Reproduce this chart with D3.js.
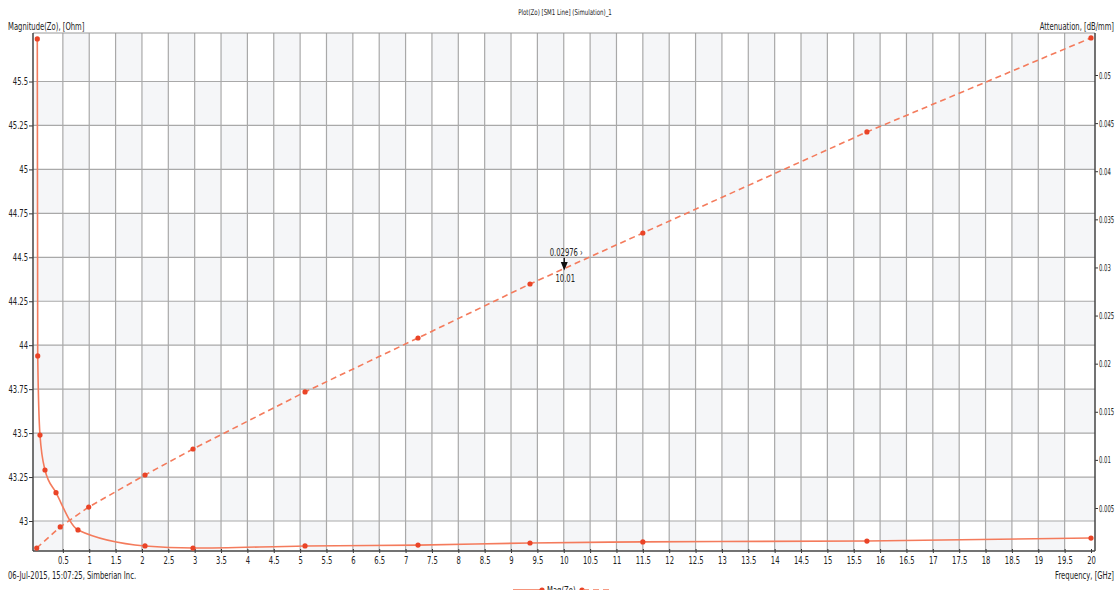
<!DOCTYPE html>
<html>
<head>
<meta charset="utf-8">
<script src="https://cdn.jsdelivr.net/npm/d3@7"></script>
<style>
  body { margin: 0; background: #fff; }
  text { font-family: "Liberation Sans Narrow", "DejaVu Sans Condensed", "Liberation Sans", sans-serif; fill: #222; }
</style>
</head>
<body>
<div id="chart"></div>
<script>
// Magnitude(Zo) series (solid, left axis)
var freqMag = [0.015, 0.023, 0.066, 0.161, 0.37, 0.787, 2.058, 2.968, 5.093, 7.236, 9.36, 11.5, 15.75, 20];
var magZo = [45.742, 43.939, 43.489, 43.29, 43.161, 42.949, 42.858, 42.846, 42.858, 42.863, 42.875, 42.881, 42.886, 42.903];

// Attenuation series (dashed, right axis)
var freqAtt = [0.004, 0.45, 0.99, 2.058, 2.968, 5.093, 7.236, 9.36, 11.5, 15.75, 20];
var attValues = [0.00084, 0.00303, 0.0051, 0.00843, 0.01113, 0.01706, 0.02267, 0.02828, 0.03358, 0.04408, 0.05385];

// tick labels
var xTicks = d3.range(1, 41).map(d => d / 2);
var yLeftTicks = [43, 43.25, 43.5, 43.75, 44, 44.25, 44.5, 44.75, 45, 45.25, 45.5];
var yRightTicks = [0.005, 0.01, 0.015, 0.02, 0.025, 0.03, 0.035, 0.04, 0.045, 0.05];

// marker annotation
var markerFreq = 10.01;
var markerValue = 0.02976;

var svgWidth = 1119;
var svgHeight = 590;

// plot frame
var frame = { left: 33, right: 1095, top: 33, bottom: 551 };

var lineColor = "#f47b5c";
var dotColor = "#ea4427";
var gridColor = "#a9a9a9";

var svg = d3.select("#chart")
  .append("svg")
  .attr("width", svgWidth)
  .attr("height", svgHeight);

var x = d3.scaleLinear().domain([0, 20]).range([36.5, 1091]);
var yLeft = d3.scaleLinear().domain([43, 45.5]).range([521, 81.5]);
var yRight = d3.scaleLinear().domain([0.005, 0.05]).range([508, 75]);

// checkerboard background
var colEdges = [frame.left].concat(xTicks.slice(0, -1).map(d => x(d)), [frame.right]);
var rowEdges = [frame.top].concat(yLeftTicks.slice().reverse().map(d => yLeft(d)), [frame.bottom]);
var cells = [];
for (var i = 0; i < colEdges.length - 1; i++) {
  for (var j = 0; j < rowEdges.length - 1; j++) {
    if ((i + j) % 2 === 1) cells.push({ x0: colEdges[i], x1: colEdges[i + 1], y0: rowEdges[j], y1: rowEdges[j + 1] });
  }
}
svg.append("g").selectAll("rect")
  .data(cells)
  .enter()
  .append("rect")
  .attr("x", d => d.x0)
  .attr("y", d => d.y0)
  .attr("width", d => d.x1 - d.x0)
  .attr("height", d => d.y1 - d.y0)
  .attr("fill", "#f5f6f8");

// grid lines
svg.append("g").selectAll("line")
  .data(xTicks.slice(0, -1))
  .enter()
  .append("line")
  .attr("x1", d => x(d)).attr("x2", d => x(d))
  .attr("y1", frame.top).attr("y2", frame.bottom)
  .attr("stroke", gridColor)
  .attr("stroke-width", 1.2);

svg.append("g").selectAll("line")
  .data(yLeftTicks)
  .enter()
  .append("line")
  .attr("x1", frame.left).attr("x2", frame.right)
  .attr("y1", d => yLeft(d)).attr("y2", d => yLeft(d))
  .attr("stroke", gridColor)
  .attr("stroke-width", 1.2);

// frame
svg.append("line")
  .attr("x1", frame.left).attr("x2", frame.right)
  .attr("y1", frame.top).attr("y2", frame.top)
  .attr("stroke", "#999").attr("stroke-width", 1.2);

// axes
var leftAxis = d3.axisLeft(yLeft)
  .tickValues(yLeftTicks)
  .tickSize(4)
  .tickPadding(1)
  .tickFormat(d => String(+d.toFixed(2)));
var rightAxis = d3.axisRight(yRight)
  .tickValues(yRightTicks)
  .tickSize(3)
  .tickPadding(1)
  .tickFormat(d => String(+d.toFixed(3)));
var bottomAxis = d3.axisBottom(x)
  .tickValues(xTicks)
  .tickSize(4)
  .tickPadding(4)
  .tickFormat(d => String(d));

function styleAxis(g) {
  g.select(".domain").remove();
  g.selectAll(".tick line").attr("stroke", "#333");
  g.selectAll(".tick text").attr("font-size", "10px").attr("fill", "#222");
}

svg.append("g").attr("transform", `translate(${frame.left},0)`).call(leftAxis).call(styleAxis);
var rightG = svg.append("g").attr("transform", `translate(${frame.right},0)`).call(rightAxis).call(styleAxis);
rightG.selectAll(".tick text").attr("font-size", "9.5px").classed("tight", true);
svg.append("g").attr("transform", `translate(0,${frame.bottom - 2})`).call(bottomAxis).call(styleAxis);

svg.append("line")
  .attr("x1", frame.left).attr("x2", frame.left)
  .attr("y1", frame.top).attr("y2", frame.bottom)
  .attr("stroke", "#444").attr("stroke-width", 1.5);
svg.append("line")
  .attr("x1", frame.right).attr("x2", frame.right)
  .attr("y1", frame.top).attr("y2", frame.bottom)
  .attr("stroke", "#444").attr("stroke-width", 1.5);
svg.append("line")
  .attr("x1", frame.left).attr("x2", frame.right)
  .attr("y1", frame.bottom).attr("y2", frame.bottom)
  .attr("stroke", "#444").attr("stroke-width", 1.5);

// series
var magData = freqMag.map((f, i) => ({ f: f, v: magZo[i] }));
var attData = freqAtt.map((f, i) => ({ f: f, v: attValues[i] }));

var magLine = d3.line()
  .x(d => x(d.f))
  .y(d => yLeft(d.v))
  .curve(d3.curveMonotoneX);
var attLine = d3.line()
  .x(d => x(d.f))
  .y(d => yRight(d.v));

svg.append("path")
  .datum(magData)
  .attr("d", magLine)
  .attr("fill", "none")
  .attr("stroke", lineColor)
  .attr("stroke-width", 1.6);

svg.append("path")
  .datum(attData)
  .attr("d", attLine)
  .attr("fill", "none")
  .attr("stroke", lineColor)
  .attr("stroke-width", 1.6)
  .attr("stroke-dasharray", "6,4");

svg.append("g").selectAll("circle")
  .data(magData)
  .enter()
  .append("circle")
  .attr("cx", d => x(d.f))
  .attr("cy", d => yLeft(d.v))
  .attr("r", 2.6)
  .attr("fill", dotColor);

svg.append("g").selectAll("circle")
  .data(attData)
  .enter()
  .append("circle")
  .attr("cx", d => x(d.f))
  .attr("cy", d => yRight(d.v))
  .attr("r", 2.6)
  .attr("fill", dotColor);

// annotation marker
var ax = x(markerFreq);
var ay = yRight(markerValue);
svg.append("path")
  .attr("d", `M${ax},${ay - 12} L${ax},${ay - 4} M${ax - 2.5},${ay - 7} L${ax},${ay - 1} L${ax + 2.5},${ay - 7} Z`)
  .attr("stroke", "#111")
  .attr("stroke-width", 1.3)
  .attr("fill", "#111");
svg.append("text")
  .attr("x", ax + 2)
  .attr("y", ay - 14)
  .attr("text-anchor", "middle")
  .attr("font-size", "10px")
  .text(`${markerValue} \u203A`);
svg.append("text")
  .attr("x", ax + 1)
  .attr("y", ay + 12)
  .attr("text-anchor", "middle")
  .attr("font-size", "10px")
  .text(markerFreq);

// titles and labels
svg.append("text")
  .attr("x", 565).attr("y", 15)
  .attr("text-anchor", "middle")
  .attr("font-size", "8px")
  .text("Plot(Zo) [SM1 Line] (Simulation)_1");

svg.append("text")
  .attr("x", 8).attr("y", 30)
  .attr("font-size", "10px")
  .text("Magnitude(Zo), [Ohm]");

svg.append("text")
  .attr("x", 1114).attr("y", 30)
  .attr("text-anchor", "end")
  .attr("font-size", "10px")
  .text("Attenuation, [dB/mm]");

svg.append("text")
  .attr("x", 1114).attr("y", 579)
  .attr("text-anchor", "end")
  .attr("font-size", "10px")
  .text("Frequency, [GHz]");

svg.append("text")
  .attr("x", 8).attr("y", 579)
  .attr("font-size", "10px")
  .text("06-Jul-2015, 15:07:25, Simberian Inc.");

// legend (cut by the bottom edge, as in the original)
var legend = svg.append("g").attr("transform", "translate(513,590)");
legend.append("line").attr("x1", 0).attr("x2", 28).attr("y1", 0).attr("y2", 0)
  .attr("stroke", lineColor).attr("stroke-width", 1.6);
legend.append("circle").attr("cx", 29).attr("cy", 0).attr("r", 2.6).attr("fill", dotColor);
legend.append("text").attr("x", 34).attr("y", 4).attr("font-size", "10px").text("Mag(Zo)");
legend.append("circle").attr("cx", 69).attr("cy", 0).attr("r", 2.6).attr("fill", dotColor);
legend.append("line").attr("x1", 70).attr("x2", 98).attr("y1", 0).attr("y2", 0)
  .attr("stroke", lineColor).attr("stroke-width", 1.6).attr("stroke-dasharray", "6,4");

// squeeze all text horizontally around its anchor, like the narrow face of the original
svg.selectAll("text").each(function() {
  var k = d3.select(this).classed("tight") ? 0.62 : 0.76;
  var x0 = +this.getAttribute("x") || 0;
  d3.select(this)
    .attr("transform", `translate(${x0},0) scale(${k},1) translate(${-x0},0)`);
});
</script>
</body>
</html>
